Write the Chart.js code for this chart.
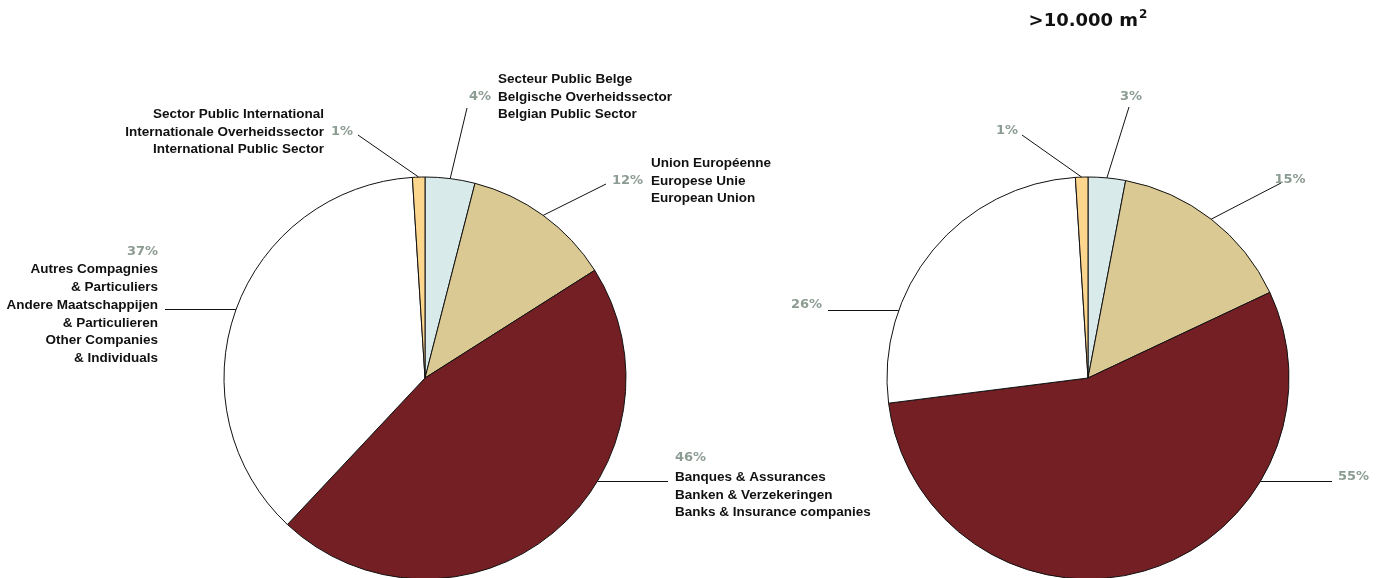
<!DOCTYPE html>
<html>
<head>
<meta charset="utf-8">
<script src="https://cdn.jsdelivr.net/npm/chart.js@4.4.1/dist/chart.umd.min.js"></script>
<style>
  html, body { margin: 0; padding: 0; background: #ffffff; overflow: hidden; }
  #wrap { position: relative; width: 1385px; height: 578px; }
  canvas { position: absolute; left: 0; top: 0; }
</style>
</head>
<body>
<div id="wrap">
  <canvas id="pieAll" width="1385" height="578"></canvas>
  <canvas id="pieLarge" width="1385" height="578"></canvas>
</div>
<script>
// Sectors, clockwise from 12 o'clock
const categories = [
  'Belgian Public Sector',
  'European Union',
  'Banks & Insurance companies',
  'Other Companies & Individuals',
  'International Public Sector'
];

// Trilingual caption for each sector (FR / NL / EN)
const sectorCaptions = [
  ['Secteur Public Belge', 'Belgische Overheidssector', 'Belgian Public Sector'],
  ['Union Européenne', 'Europese Unie', 'European Union'],
  ['Banques & Assurances', 'Banken & Verzekeringen', 'Banks & Insurance companies'],
  ['Autres Compagnies', '& Particuliers', 'Andere Maatschappijen', '& Particulieren', 'Other Companies', '& Individuals'],
  ['Sector Public International', 'Internationale Overheidssector', 'International Public Sector']
];

// Share per sector, in %
const sharesAll = [4, 12, 46, 37, 1];
const sharesLarge = [3, 15, 55, 26, 1];

const largeTitle = '>10.000 m';
const largeTitleSup = '2';

// Slice fills, same order as categories
const sliceColors = ['#d9eaea', '#dbc994', '#741f23', '#ffffff', '#fdd68e'];

const PCT_COLOR = '#8c9c92';
const TEXT_FONT = 'bold 13.5px "Liberation Sans", Arial, sans-serif';
const PCT_FONT = 'bold 13px "DejaVu Sans", sans-serif';
const LINE_H = 17.8;

// Callout layout for the left pie: leader start (lx, ly), 'h' = horizontal leader,
// percent position and caption block position/alignment.
const layoutAll = [
  { lx: 467, ly: 108, px: 491, py: 97, pAlign: 'right', tx: 498, ty: 79, tAlign: 'left' },
  { lx: 606, ly: 184, px: 643, py: 181, pAlign: 'right', tx: 651, ty: 163, tAlign: 'left' },
  { lx: 668, ly: 481.5, h: true, px: 675, py: 458, pAlign: 'left', tx: 675, ty: 477, tAlign: 'left' },
  { lx: 165, ly: 309.5, h: true, px: 158, py: 252, pAlign: 'right', tx: 158, ty: 269.5, tAlign: 'right' },
  { lx: 358, ly: 135, px: 353, py: 132, pAlign: 'right', tx: 324, ty: 114, tAlign: 'right' }
];

// Callout layout for the right pie (percent only)
const layoutLarge = [
  { lx: 1129, ly: 107, px: 1131, py: 97, pAlign: 'center' },
  { lx: 1281, ly: 183, px: 1290, py: 180, pAlign: 'center' },
  { lx: 1332, ly: 481.5, h: true, px: 1338, py: 477, pAlign: 'left' },
  { lx: 828, ly: 310.5, h: true, px: 822, py: 305, pAlign: 'right' },
  { lx: 1022, ly: 135, px: 1007, py: 131, pAlign: 'center' }
];

// Draws leader lines from each slice edge to its callout, then the texts
const calloutPlugin = {
  id: 'callouts',
  afterDatasetsDraw(chart, args, opts) {
    const ctx = chart.ctx;
    const meta = chart.getDatasetMeta(0);
    const values = chart.data.datasets[0].data;
    ctx.save();
    meta.data.forEach((arc, i) => {
      const L = opts.layout[i];
      const p = arc.getProps(['x', 'y', 'startAngle', 'endAngle', 'outerRadius'], true);
      let ex, ey;
      if (L.h) {
        const dy = L.ly - p.y;
        const dx = Math.sqrt(Math.max(p.outerRadius * p.outerRadius - dy * dy, 0));
        ex = L.lx < p.x ? p.x - dx : p.x + dx;
        ey = L.ly;
      } else {
        const mid = (p.startAngle + p.endAngle) / 2;
        ex = p.x + p.outerRadius * Math.cos(mid);
        ey = p.y + p.outerRadius * Math.sin(mid);
      }
      ctx.beginPath();
      ctx.strokeStyle = '#111111';
      ctx.lineWidth = 1;
      ctx.moveTo(L.lx, L.ly);
      ctx.lineTo(ex, ey);
      ctx.stroke();

      ctx.textBaseline = 'middle';
      ctx.font = PCT_FONT;
      ctx.fillStyle = PCT_COLOR;
      ctx.textAlign = L.pAlign;
      ctx.fillText(values[i] + '%', L.px, L.py);

      if (opts.captions && L.tx !== undefined) {
        ctx.font = TEXT_FONT;
        ctx.fillStyle = '#111111';
        ctx.textAlign = L.tAlign;
        opts.captions[i].forEach((line, k) => {
          ctx.fillText(line, L.tx, L.ty + k * LINE_H);
        });
      }
    });

    if (opts.title) {
      ctx.fillStyle = '#111111';
      ctx.textBaseline = 'alphabetic';
      ctx.font = 'bold 18px "DejaVu Sans", sans-serif';
      const supFont = 'bold 12px "DejaVu Sans", sans-serif';
      const w1 = ctx.measureText(opts.title).width;
      ctx.font = supFont;
      const w2 = ctx.measureText(opts.titleSup).width + 1;
      const x0 = opts.titleX - (w1 + w2) / 2;
      ctx.font = 'bold 18px "DejaVu Sans", sans-serif';
      ctx.textAlign = 'left';
      ctx.fillText(opts.title, x0, 26);
      ctx.font = supFont;
      ctx.fillText(opts.titleSup, x0 + w1 + 1, 18);
    }
    ctx.restore();
  }
};

function makePie(canvasId, values, padding, callouts) {
  return new Chart(document.getElementById(canvasId), {
    type: 'pie',
    data: {
      labels: categories,
      datasets: [{
        data: values,
        backgroundColor: sliceColors,
        borderColor: '#111111',
        borderWidth: 1,
        hoverOffset: 0,
        clip: false
      }]
    },
    options: {
      responsive: false,
      animation: false,
      events: [],
      radius: 201,
      layout: { padding: padding },
      plugins: {
        legend: { display: false },
        tooltip: { enabled: false },
        callouts: callouts
      }
    },
    plugins: [calloutPlugin]
  });
}

makePie('pieAll', sharesAll,
  { left: 0, right: 535, top: 178, bottom: 0 },
  { layout: layoutAll, captions: sectorCaptions });

makePie('pieLarge', sharesLarge,
  { left: 791, right: 0, top: 178, bottom: 0 },
  { layout: layoutLarge, title: largeTitle, titleSup: largeTitleSup, titleX: 1088 });
</script>
</body>
</html>
